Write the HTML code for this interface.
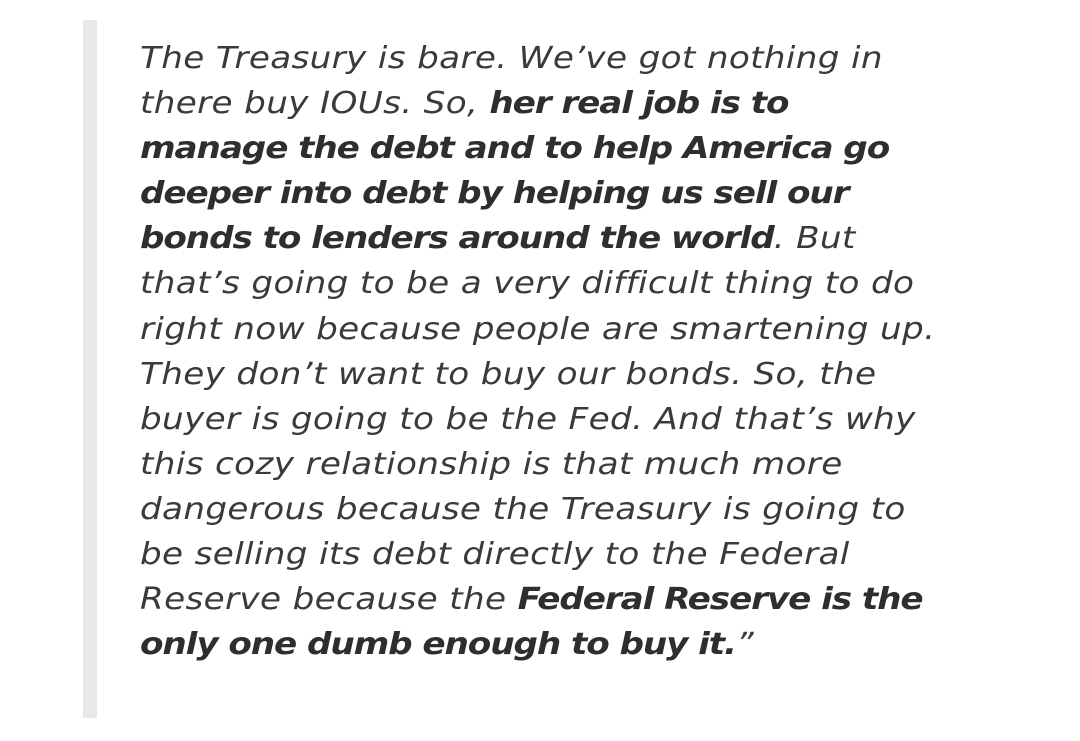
<!DOCTYPE html>
<html><head><meta charset="utf-8"><style>
html,body{margin:0;padding:0;background:#fff;width:1080px;height:741px;overflow:hidden}
.bar{position:absolute;left:83px;top:20px;width:14px;height:698px;background:#e8e8e8}
.q{position:absolute;left:140px;top:36px;font-family:"DejaVu Sans",sans-serif;font-style:italic;font-size:30px;line-height:45.1px;color:#3a3a3a;letter-spacing:0.3px;transform:scaleX(1.14);transform-origin:0 0}
.q div{white-space:nowrap}
b{font-weight:bold;color:#2e2e2e;letter-spacing:-0.95px}
</style></head><body>
<div class="bar"></div>
<div class="q">
<div>The Treasury is bare. We’ve got nothing in</div>
<div>there buy IOUs. So, <b>her real job is to</b></div>
<div><b>manage the debt and to help America go</b></div>
<div><b>deeper into debt by helping us sell our</b></div>
<div><b>bonds to lenders around the world</b>. But</div>
<div>that’s going to be a very difficult thing to do</div>
<div>right now because people are smartening up.</div>
<div>They don’t want to buy our bonds. So, the</div>
<div>buyer is going to be the Fed. And that’s why</div>
<div>this cozy relationship is that much more</div>
<div>dangerous because the Treasury is going to</div>
<div>be selling its debt directly to the Federal</div>
<div>Reserve because the <b>Federal Reserve is the</b></div>
<div><b>only one dumb enough to buy it.</b>”</div>
</div>
</body></html>
